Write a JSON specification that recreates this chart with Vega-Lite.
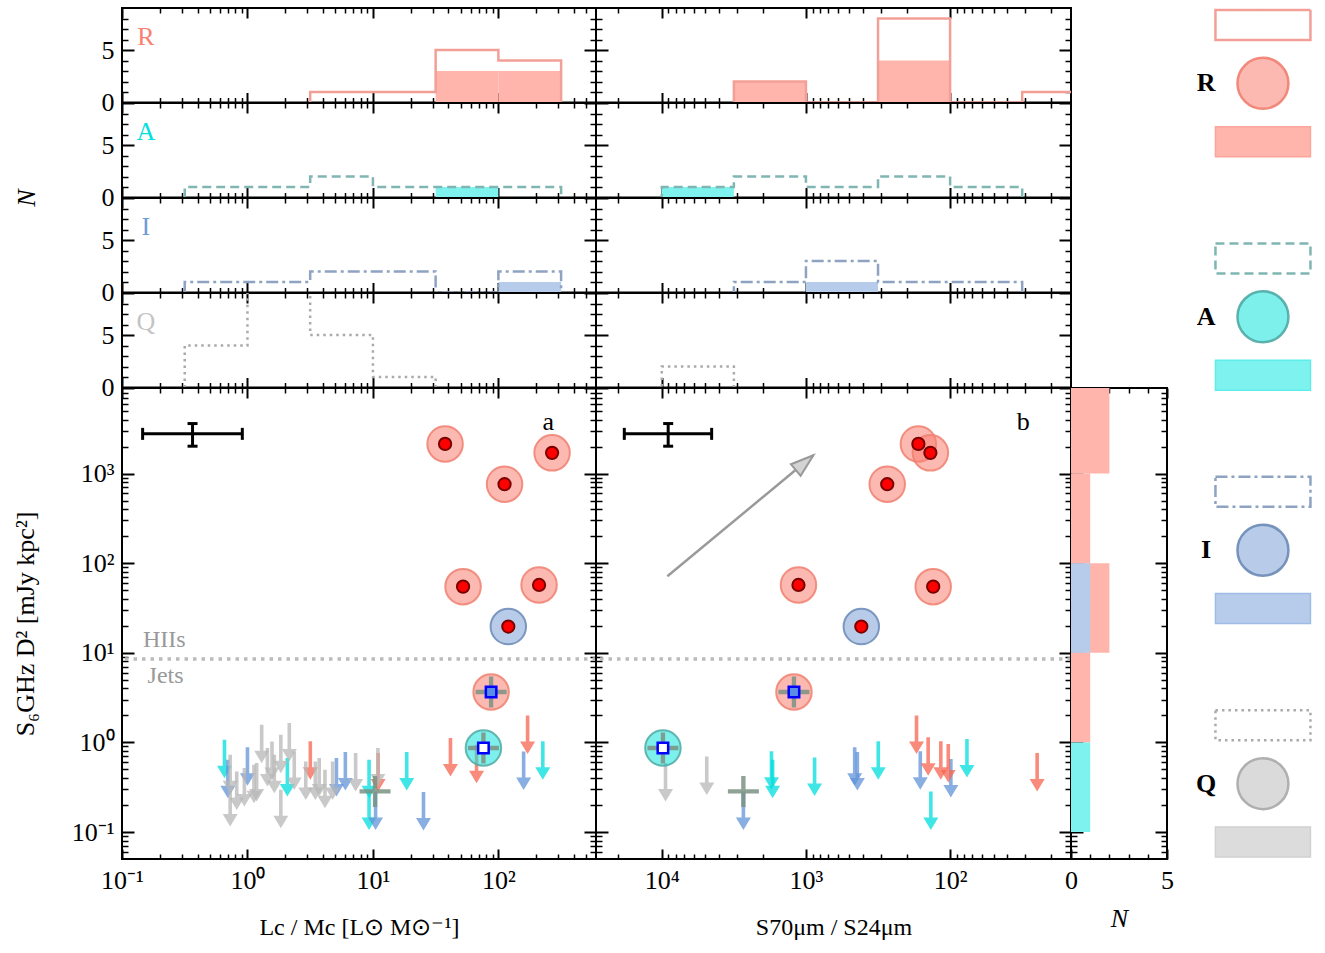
{
"$schema": "https://vega.github.io/schema/vega-lite/v6.json",
"background": "white",
"padding": {"left": 11, "top": 4, "right": 5, "bottom": 5},
"config": {
 "view": {"stroke": "black", "strokeWidth": 2},
 "font": "Liberation Serif",
 "axis": {"domain": false, "grid": false, "tickColor": "black", "tickWidth": 1.5, "labelFont": "Liberation Serif", "labelFontSize": 26, "labelColor": "black", "titleFont": "Liberation Serif", "titleFontSize": 26, "titleFontWeight": "normal", "titleColor": "black", "labelOverlap": false, "labelFlush": false, "labelBound": false}
},
"datasets": {
 "src": [
  {"panel":"a","cls":"R","kind":"det","x":37.6,"y":2140},
  {"panel":"a","cls":"R","kind":"det","x":268,"y":1700},
  {"panel":"a","cls":"R","kind":"det","x":112,"y":760},
  {"panel":"a","cls":"R","kind":"det","x":52.3,"y":54.7},
  {"panel":"a","cls":"R","kind":"det","x":211,"y":57.1},
  {"panel":"a","cls":"I","kind":"det","x":120,"y":19.6},
  {"panel":"a","cls":"R","kind":"jet","x":87.5,"y":3.65},
  {"panel":"a","cls":"A","kind":"jet","x":76,"y":0.865},
  {"panel":"a","cls":"X","kind":"cross","x":10.4,"y":0.284},
  {"panel":"a","cls":"A","kind":"lim","x":0.656,"y":1.07},
  {"panel":"a","cls":"A","kind":"lim","x":2.08,"y":0.668},
  {"panel":"a","cls":"A","kind":"lim","x":9.32,"y":0.64},
  {"panel":"a","cls":"A","kind":"lim","x":9.32,"y":0.284},
  {"panel":"a","cls":"A","kind":"lim","x":18.6,"y":0.78},
  {"panel":"a","cls":"A","kind":"lim","x":226,"y":1.03},
  {"panel":"a","cls":"I","kind":"lim","x":0.698,"y":0.64},
  {"panel":"a","cls":"I","kind":"lim","x":1.0,"y":0.88},
  {"panel":"a","cls":"I","kind":"lim","x":5.12,"y":0.668},
  {"panel":"a","cls":"I","kind":"lim","x":6.03,"y":0.78},
  {"panel":"a","cls":"I","kind":"lim","x":10.5,"y":0.284},
  {"panel":"a","cls":"I","kind":"lim","x":25.3,"y":0.279},
  {"panel":"a","cls":"I","kind":"lim","x":159,"y":0.79},
  {"panel":"a","cls":"R","kind":"lim","x":3.17,"y":1.03},
  {"panel":"a","cls":"R","kind":"lim","x":11.0,"y":0.76},
  {"panel":"a","cls":"R","kind":"lim","x":41.5,"y":1.12},
  {"panel":"a","cls":"R","kind":"lim","x":67,"y":0.94},
  {"panel":"a","cls":"R","kind":"lim","x":171,"y":1.99},
  {"panel":"a","cls":"Q","kind":"lim","x":0.728,"y":0.728},
  {"panel":"a","cls":"Q","kind":"lim","x":0.728,"y":0.309},
  {"panel":"a","cls":"Q","kind":"lim","x":0.821,"y":0.474},
  {"panel":"a","cls":"Q","kind":"lim","x":0.945,"y":0.517},
  {"panel":"a","cls":"Q","kind":"lim","x":1.127,"y":0.563},
  {"panel":"a","cls":"Q","kind":"lim","x":1.184,"y":0.588},
  {"panel":"a","cls":"Q","kind":"lim","x":1.298,"y":1.575},
  {"panel":"a","cls":"Q","kind":"lim","x":1.442,"y":0.864},
  {"panel":"a","cls":"Q","kind":"lim","x":1.569,"y":1.026},
  {"panel":"a","cls":"Q","kind":"lim","x":1.637,"y":0.728},
  {"panel":"a","cls":"Q","kind":"lim","x":1.845,"y":1.218},
  {"panel":"a","cls":"Q","kind":"lim","x":1.845,"y":0.296},
  {"panel":"a","cls":"Q","kind":"lim","x":2.155,"y":1.644},
  {"panel":"a","cls":"Q","kind":"lim","x":2.361,"y":0.793},
  {"panel":"a","cls":"Q","kind":"lim","x":2.916,"y":0.614},
  {"panel":"a","cls":"Q","kind":"lim","x":3.477,"y":0.614},
  {"panel":"a","cls":"Q","kind":"lim","x":3.73,"y":0.668},
  {"panel":"a","cls":"Q","kind":"lim","x":4.148,"y":0.495},
  {"panel":"a","cls":"Q","kind":"lim","x":4.775,"y":0.614},
  {"panel":"a","cls":"Q","kind":"lim","x":7.28,"y":0.76},
  {"panel":"a","cls":"Q","kind":"lim","x":10.96,"y":0.864},
  {"panel":"b","cls":"R","kind":"det","x":166,"y":2140},
  {"panel":"b","cls":"R","kind":"det","x":137,"y":1700},
  {"panel":"b","cls":"R","kind":"det","x":273,"y":760},
  {"panel":"b","cls":"R","kind":"det","x":1127,"y":57.1},
  {"panel":"b","cls":"R","kind":"det","x":131,"y":54.7},
  {"panel":"b","cls":"I","kind":"det","x":413,"y":19.6},
  {"panel":"b","cls":"R","kind":"jet","x":1211,"y":3.65},
  {"panel":"b","cls":"A","kind":"jet","x":9820,"y":0.865},
  {"panel":"b","cls":"X","kind":"cross","x":2716,"y":0.284},
  {"panel":"b","cls":"Q","kind":"lim","x":9420,"y":0.588},
  {"panel":"b","cls":"Q","kind":"lim","x":4875,"y":0.698},
  {"panel":"b","cls":"A","kind":"lim","x":1734,"y":0.794},
  {"panel":"b","cls":"A","kind":"lim","x":1703,"y":0.64},
  {"panel":"b","cls":"A","kind":"lim","x":871,"y":0.68},
  {"panel":"b","cls":"A","kind":"lim","x":315,"y":1.03},
  {"panel":"b","cls":"A","kind":"lim","x":76.4,"y":1.09},
  {"panel":"b","cls":"A","kind":"lim","x":136,"y":0.284},
  {"panel":"b","cls":"I","kind":"lim","x":2716,"y":0.284},
  {"panel":"b","cls":"I","kind":"lim","x":459,"y":0.88},
  {"panel":"b","cls":"I","kind":"lim","x":440,"y":0.78},
  {"panel":"b","cls":"I","kind":"lim","x":161,"y":0.794},
  {"panel":"b","cls":"I","kind":"lim","x":98.8,"y":0.652},
  {"panel":"b","cls":"R","kind":"lim","x":171,"y":1.99},
  {"panel":"b","cls":"R","kind":"lim","x":142,"y":1.14},
  {"panel":"b","cls":"R","kind":"lim","x":116,"y":1.03},
  {"panel":"b","cls":"R","kind":"lim","x":103,"y":0.96},
  {"panel":"b","cls":"R","kind":"lim","x":24.9,"y":0.76}
 ],
 "hout": [
  {"panel":"a","cls":"R","i":0,"x":3.162,"n":0},{"panel":"a","cls":"R","i":1,"x":3.162,"n":1},{"panel":"a","cls":"R","i":2,"x":10,"n":1},{"panel":"a","cls":"R","i":3,"x":31.62,"n":5},{"panel":"a","cls":"R","i":4,"x":100,"n":4},{"panel":"a","cls":"R","i":5,"x":316.2,"n":0},
  {"panel":"a","cls":"A","i":0,"x":0.3162,"n":0},{"panel":"a","cls":"A","i":1,"x":0.3162,"n":1},{"panel":"a","cls":"A","i":2,"x":1,"n":1},{"panel":"a","cls":"A","i":3,"x":3.162,"n":2},{"panel":"a","cls":"A","i":4,"x":10,"n":1},{"panel":"a","cls":"A","i":5,"x":31.62,"n":1},{"panel":"a","cls":"A","i":6,"x":100,"n":1},{"panel":"a","cls":"A","i":7,"x":316.2,"n":0},
  {"panel":"a","cls":"I","i":0,"x":0.3162,"n":0},{"panel":"a","cls":"I","i":1,"x":0.3162,"n":1},{"panel":"a","cls":"I","i":2,"x":1,"n":1},{"panel":"a","cls":"I","i":3,"x":3.162,"n":2},{"panel":"a","cls":"I","i":4,"x":10,"n":2},{"panel":"a","cls":"I","i":5,"x":31.62,"n":0},{"panel":"a","cls":"I","i":6,"x":100,"n":2},{"panel":"a","cls":"I","i":7,"x":316.2,"n":0},
  {"panel":"a","cls":"Q","i":0,"x":0.3162,"n":0},{"panel":"a","cls":"Q","i":1,"x":0.3162,"n":4},{"panel":"a","cls":"Q","i":2,"x":1,"n":12},{"panel":"a","cls":"Q","i":3,"x":3.162,"n":5},{"panel":"a","cls":"Q","i":4,"x":10,"n":1},{"panel":"a","cls":"Q","i":5,"x":31.62,"n":0},
  {"panel":"b","cls":"R","i":0,"x":10,"n":0},{"panel":"b","cls":"R","i":1,"x":10,"n":1},{"panel":"b","cls":"R","i":2,"x":31.62,"n":0},{"panel":"b","cls":"R","i":3,"x":100,"n":8},{"panel":"b","cls":"R","i":4,"x":316.2,"n":0},{"panel":"b","cls":"R","i":5,"x":1000,"n":2},{"panel":"b","cls":"R","i":6,"x":3162,"n":0},
  {"panel":"b","cls":"A","i":0,"x":31.62,"n":0},{"panel":"b","cls":"A","i":1,"x":31.62,"n":1},{"panel":"b","cls":"A","i":2,"x":100,"n":2},{"panel":"b","cls":"A","i":3,"x":316.2,"n":1},{"panel":"b","cls":"A","i":4,"x":1000,"n":2},{"panel":"b","cls":"A","i":5,"x":3162,"n":1},{"panel":"b","cls":"A","i":6,"x":10000,"n":0},
  {"panel":"b","cls":"I","i":0,"x":31.62,"n":0},{"panel":"b","cls":"I","i":1,"x":31.62,"n":1},{"panel":"b","cls":"I","i":2,"x":100,"n":1},{"panel":"b","cls":"I","i":3,"x":316.2,"n":3},{"panel":"b","cls":"I","i":4,"x":1000,"n":1},{"panel":"b","cls":"I","i":5,"x":3162,"n":0},
  {"panel":"b","cls":"Q","i":0,"x":3162,"n":0},{"panel":"b","cls":"Q","i":1,"x":3162,"n":2},{"panel":"b","cls":"Q","i":2,"x":10000,"n":0}
 ],
 "hfill": [
  {"panel":"a","cls":"R","lo":31.62,"hi":100,"n":3},
  {"panel":"a","cls":"R","lo":100,"hi":316.2,"n":3},
  {"panel":"a","cls":"A","lo":31.62,"hi":100,"n":1},
  {"panel":"a","cls":"I","lo":100,"hi":316.2,"n":1},
  {"panel":"b","cls":"R","lo":1000,"hi":3162,"n":2},
  {"panel":"b","cls":"R","lo":100,"hi":316.2,"n":4},
  {"panel":"b","cls":"A","lo":3162,"hi":10000,"n":1},
  {"panel":"b","cls":"I","lo":316.2,"hi":1000,"n":1}
 ],
 "nbar": [
  {"cls":"R","lo":1000,"hi":10000,"n":2},
  {"cls":"R","lo":100,"hi":1000,"n":1},
  {"cls":"R","lo":10,"hi":100,"n":2},
  {"cls":"R","lo":1,"hi":10,"n":1},
  {"cls":"I","lo":10,"hi":100,"n":1},
  {"cls":"A","lo":0.1,"hi":1,"n":1}
 ],
 "ebar": [
  {"panel":"a","x":0.365,"xlo":0.146,"xhi":0.91,"y":2770,"ylo":2018,"yhi":3610},
  {"panel":"b","x":9030,"xlo":18200,"xhi":4510,"y":2770,"ylo":2018,"yhi":3610}
 ],
 "vec": [{"x":9150,"y":71.3,"x2":888,"y2":1600}],
 "leg": [
  {"cls":"R","item":"outline","key":"R-outline"},{"cls":"R","item":"circle","key":"R-circle"},{"cls":"R","item":"fill","key":"R-fill"},
  {"cls":"A","item":"outline","key":"A-outline"},{"cls":"A","item":"circle","key":"A-circle"},{"cls":"A","item":"fill","key":"A-fill"},
  {"cls":"I","item":"outline","key":"I-outline"},{"cls":"I","item":"circle","key":"I-circle"},{"cls":"I","item":"fill","key":"I-fill"},
  {"cls":"Q","item":"outline","key":"Q-outline"},{"cls":"Q","item":"circle","key":"Q-circle"},{"cls":"Q","item":"fill","key":"Q-fill"}
 ]
},
"columns": 4,
"spacing": 0,
"bounds": "flush",
"concat": [

{"width":474,"height":94.5,"resolve":{"axis":{"x":"independent","y":"independent"}},"layer":[
 {"data":{"name":"hfill"},"transform":[{"filter":"datum.panel==='a' && datum.cls==='R'"}],"mark":{"type":"rect","color":"#FFB4AC","clip":true},"encoding":{"x":{"field":"lo","type":"quantitative","scale":{"type":"log","domain":[0.1,600],"nice":false},"axis":{"orient":"bottom","values":[0.1,1,10,100],"tickSize":-10,"tickWidth":2,"labels":false,"title":null}},"x2":{"field":"hi"},"y":{"field":"n","type":"quantitative","scale":{"domain":[0,9],"nice":false,"zero":false},"axis":{"orient":"left","values":[0,5],"tickSize":-12,"tickWidth":2,"labelPadding":20,"title":null}},"y2":{"datum":0}}},
 {"data":{"name":"hout"},"transform":[{"filter":"datum.panel==='a' && datum.cls==='R'"}],"mark":{"type":"line","interpolate":"step-after","color":"#F2A097","strokeWidth":2.5,"clip":true},"encoding":{"x":{"field":"x","type":"quantitative","scale":{"type":"log","domain":[0.1,600],"nice":false},"axis":{"orient":"bottom","values":[0.2,0.3,0.4,0.5,0.6,0.7,0.8,0.9,2,3,4,5,6,7,8,9,20,30,40,50,60,70,80,90,200,300,400,500],"tickSize":-5,"labels":false,"title":null}},"y":{"field":"n","type":"quantitative","scale":{"domain":[0,9],"nice":false,"zero":false},"axis":{"orient":"left","values":[1,2,3,4,6,7,8],"tickSize":-6,"labels":false,"title":null}},"order":{"field":"i","type":"quantitative"}}},
 {"data":{"values":[{}]},"mark":{"type":"text","text":"R","fontSize":26,"font":"Liberation Serif","color":"#FA8072","align":"center","baseline":"middle"},"encoding":{"x":{"datum":0.155,"type":"quantitative","scale":{"type":"log","domain":[0.1,600],"nice":false},"axis":{"orient":"top","values":[0.1,1,10,100],"tickSize":-10,"tickWidth":2,"labels":false,"title":null}},"y":{"datum":6.2,"type":"quantitative","scale":{"domain":[0,9],"nice":false,"zero":false},"axis":{"orient":"right","values":[0,5],"tickSize":-12,"tickWidth":2,"labels":false,"title":null}}}},
 {"data":{"values":[{}]},"mark":{"type":"point","opacity":0},"encoding":{"x":{"datum":1,"type":"quantitative","scale":{"type":"log","domain":[0.1,600],"nice":false},"axis":{"orient":"top","values":[0.2,0.3,0.4,0.5,0.6,0.7,0.8,0.9,2,3,4,5,6,7,8,9,20,30,40,50,60,70,80,90,200,300,400,500],"tickSize":-5,"labels":false,"title":null}},"y":{"datum":1,"type":"quantitative","scale":{"domain":[0,9],"nice":false,"zero":false},"axis":{"orient":"right","values":[1,2,3,4,6,7,8],"tickSize":-6,"labels":false,"title":null}}}}
]},
{"width":475,"height":94.5,"resolve":{"axis":{"x":"independent","y":"independent"}},"layer":[
 {"data":{"name":"hfill"},"transform":[{"filter":"datum.panel==='b' && datum.cls==='R'"}],"mark":{"type":"rect","color":"#FFB4AC","clip":true},"encoding":{"x":{"field":"lo","type":"quantitative","scale":{"type":"log","domain":[14.5,28600],"reverse":true,"nice":false},"axis":{"orient":"bottom","values":[100,1000,10000],"tickSize":-10,"tickWidth":2,"labels":false,"title":null}},"x2":{"field":"hi"},"y":{"field":"n","type":"quantitative","scale":{"domain":[0,9],"nice":false,"zero":false},"axis":{"orient":"left","values":[0,5],"tickSize":-12,"tickWidth":2,"labels":false,"title":null}},"y2":{"datum":0}}},
 {"data":{"name":"hout"},"transform":[{"filter":"datum.panel==='b' && datum.cls==='R'"}],"mark":{"type":"line","interpolate":"step-after","color":"#F2A097","strokeWidth":2.5,"clip":true},"encoding":{"x":{"field":"x","type":"quantitative","scale":{"type":"log","domain":[14.5,28600],"reverse":true,"nice":false},"axis":{"orient":"bottom","values":[20,30,40,50,60,70,80,90,200,300,400,500,600,700,800,900,2000,3000,4000,5000,6000,7000,8000,9000,20000],"tickSize":-5,"labels":false,"title":null}},"y":{"field":"n","type":"quantitative","scale":{"domain":[0,9],"nice":false,"zero":false},"axis":{"orient":"left","values":[1,2,3,4,6,7,8],"tickSize":-6,"labels":false,"title":null}},"order":{"field":"i","type":"quantitative"}}},
 {"data":{"values":[{}]},"mark":{"type":"point","opacity":0},"encoding":{"x":{"datum":100,"type":"quantitative","scale":{"type":"log","domain":[14.5,28600],"reverse":true,"nice":false},"axis":{"orient":"top","values":[100,1000,10000],"tickSize":-10,"tickWidth":2,"labels":false,"title":null}},"y":{"datum":1,"type":"quantitative","scale":{"domain":[0,9],"nice":false,"zero":false},"axis":{"orient":"right","values":[0,5],"tickSize":-12,"tickWidth":2,"labels":false,"title":null}}}},
 {"data":{"values":[{}]},"mark":{"type":"point","opacity":0},"encoding":{"x":{"datum":100,"type":"quantitative","scale":{"type":"log","domain":[14.5,28600],"reverse":true,"nice":false},"axis":{"orient":"top","values":[20,30,40,50,60,70,80,90,200,300,400,500,600,700,800,900,2000,3000,4000,5000,6000,7000,8000,9000,20000],"tickSize":-5,"labels":false,"title":null}},"y":{"datum":1,"type":"quantitative","scale":{"domain":[0,9],"nice":false,"zero":false},"axis":{"orient":"right","values":[1,2,3,4,6,7,8],"tickSize":-6,"labels":false,"title":null}}}}
]},
{"width":96,"height":94.5,"view":{"stroke":null},"data":{"values":[{}]},"mark":{"type":"point","opacity":0}},
{"width":143,"height":94.5,"view":{"stroke":null},"data":{"name":"leg"},"resolve":{"scale":{"fill":"independent","stroke":"independent"}},"layer":[
 {"transform":[{"filter":"datum.item==='outline'"}],"mark":{"type":"point","shape":"M-1,-0.316L1,-0.316L1,0.316L-1,0.316Z","size":9025,"filled":false,"strokeWidth":2.5,"opacity":1},"encoding":{"x":{"datum":6.71,"type":"quantitative","scale":{"domain":[0,10],"nice":false,"zero":false},"axis":null},"y":{"field":"key","type":"nominal","scale":{"type":"point","padding":0,"domain":["R-outline","R-circle","R-fill","g1","A-outline","A-circle","A-fill","g2","I-outline","I-circle","I-fill","g3","Q-outline","Q-circle","Q-fill"],"range":[17,834]},"axis":null},"stroke":{"field":"cls","type":"nominal","scale":{"domain":["R","A","I","Q"],"range":["#F2A097","#7FB6B2","#8EA3C2","#AAAAAA"]},"legend":null},"strokeDash":{"field":"cls","type":"nominal","scale":{"domain":["R","A","I","Q"],"range":[[1,0],[9,5],[12,4,3,4],[2.5,4]]},"legend":null}}},
 {"transform":[{"filter":"datum.item==='fill'"}],"mark":{"type":"point","shape":"M-1,-0.316L1,-0.316L1,0.316L-1,0.316Z","size":9025,"filled":true,"strokeWidth":1.5,"opacity":1},"encoding":{"x":{"datum":6.71,"type":"quantitative","scale":{"domain":[0,10],"nice":false,"zero":false},"axis":null},"y":{"field":"key","type":"nominal","scale":{"type":"point","padding":0,"domain":["R-outline","R-circle","R-fill","g1","A-outline","A-circle","A-fill","g2","I-outline","I-circle","I-fill","g3","Q-outline","Q-circle","Q-fill"],"range":[17,834]},"axis":null},"fill":{"field":"cls","type":"nominal","scale":{"domain":["R","A","I","Q"],"range":["#FFB4AC","#7EF2EE","#B7CCEB","#DCDCDC"]},"legend":null},"stroke":{"field":"cls","type":"nominal","scale":{"domain":["R","A","I","Q"],"range":["#FCA59B","#5EEDEA","#9FBCE6","#D0D0D0"]},"legend":null}}},
 {"transform":[{"filter":"datum.item==='circle'"}],"mark":{"type":"point","shape":"circle","size":2600,"filled":true,"opacity":1,"fillOpacity":0.55,"strokeWidth":2.5,"strokeOpacity":0.9},"encoding":{"x":{"datum":6.71,"type":"quantitative","scale":{"domain":[0,10],"nice":false,"zero":false},"axis":null},"y":{"field":"key","type":"nominal","scale":{"type":"point","padding":0,"domain":["R-outline","R-circle","R-fill","g1","A-outline","A-circle","A-fill","g2","I-outline","I-circle","I-fill","g3","Q-outline","Q-circle","Q-fill"],"range":[17,834]},"axis":null},"fill":{"field":"cls","type":"nominal","scale":{"domain":["R","A","I","Q"],"range":["#FA8072","#14E4DC","#7EA2D9","#BCBCBC"]},"legend":null},"stroke":{"field":"cls","type":"nominal","scale":{"domain":["R","A","I","Q"],"range":["#F08070","#4FAAA5","#6A8AB5","#A8A8A8"]},"legend":null}}},
 {"transform":[{"filter":"datum.item==='circle'"}],"mark":{"type":"text","fontSize":26,"fontWeight":"bold","color":"black","align":"center","baseline":"middle"},"encoding":{"x":{"datum":2.73,"type":"quantitative","scale":{"domain":[0,10],"nice":false,"zero":false},"axis":null},"y":{"field":"key","type":"nominal","scale":{"type":"point","padding":0,"domain":["R-outline","R-circle","R-fill","g1","A-outline","A-circle","A-fill","g2","I-outline","I-circle","I-fill","g3","Q-outline","Q-circle","Q-fill"],"range":[17,834]},"axis":null},"text":{"field":"cls","type":"nominal"}}}
]},

{"width":474,"height":94.5,"resolve":{"axis":{"x":"independent","y":"independent"}},"layer":[
 {"data":{"name":"hfill"},"transform":[{"filter":"datum.panel==='a' && datum.cls==='A'"}],"mark":{"type":"rect","color":"#7EF2EE","clip":true},"encoding":{"x":{"field":"lo","type":"quantitative","scale":{"type":"log","domain":[0.1,600],"nice":false},"axis":{"orient":"bottom","values":[0.1,1,10,100],"tickSize":-10,"tickWidth":2,"labels":false,"title":null}},"x2":{"field":"hi"},"y":{"field":"n","type":"quantitative","scale":{"domain":[0,9],"nice":false,"zero":false},"axis":{"orient":"left","values":[0,5],"tickSize":-12,"tickWidth":2,"labelPadding":20,"title":"N","titleFontStyle":"italic","titleAnchor":"start","titleAlign":"center","titlePadding":62}},"y2":{"datum":0}}},
 {"data":{"name":"hout"},"transform":[{"filter":"datum.panel==='a' && datum.cls==='A'"}],"mark":{"type":"line","interpolate":"step-after","color":"#7FB6B2","strokeWidth":2.5,"strokeDash":[9,5],"clip":true},"encoding":{"x":{"field":"x","type":"quantitative","scale":{"type":"log","domain":[0.1,600],"nice":false},"axis":{"orient":"bottom","values":[0.2,0.3,0.4,0.5,0.6,0.7,0.8,0.9,2,3,4,5,6,7,8,9,20,30,40,50,60,70,80,90,200,300,400,500],"tickSize":-5,"labels":false,"title":null}},"y":{"field":"n","type":"quantitative","scale":{"domain":[0,9],"nice":false,"zero":false},"axis":{"orient":"left","values":[1,2,3,4,6,7,8],"tickSize":-6,"labels":false,"title":null}},"order":{"field":"i","type":"quantitative"}}},
 {"data":{"values":[{}]},"mark":{"type":"text","text":"A","fontSize":26,"font":"Liberation Serif","color":"#00E0E0","align":"center","baseline":"middle"},"encoding":{"x":{"datum":0.155,"type":"quantitative","scale":{"type":"log","domain":[0.1,600],"nice":false},"axis":{"orient":"top","values":[0.1,1,10,100],"tickSize":-10,"tickWidth":2,"labels":false,"title":null}},"y":{"datum":6.2,"type":"quantitative","scale":{"domain":[0,9],"nice":false,"zero":false},"axis":{"orient":"right","values":[0,5],"tickSize":-12,"tickWidth":2,"labels":false,"title":null}}}},
 {"data":{"values":[{}]},"mark":{"type":"point","opacity":0},"encoding":{"x":{"datum":1,"type":"quantitative","scale":{"type":"log","domain":[0.1,600],"nice":false},"axis":{"orient":"top","values":[0.2,0.3,0.4,0.5,0.6,0.7,0.8,0.9,2,3,4,5,6,7,8,9,20,30,40,50,60,70,80,90,200,300,400,500],"tickSize":-5,"labels":false,"title":null}},"y":{"datum":1,"type":"quantitative","scale":{"domain":[0,9],"nice":false,"zero":false},"axis":{"orient":"right","values":[1,2,3,4,6,7,8],"tickSize":-6,"labels":false,"title":null}}}}
]},
{"width":475,"height":94.5,"resolve":{"axis":{"x":"independent","y":"independent"}},"layer":[
 {"data":{"name":"hfill"},"transform":[{"filter":"datum.panel==='b' && datum.cls==='A'"}],"mark":{"type":"rect","color":"#7EF2EE","clip":true},"encoding":{"x":{"field":"lo","type":"quantitative","scale":{"type":"log","domain":[14.5,28600],"reverse":true,"nice":false},"axis":{"orient":"bottom","values":[100,1000,10000],"tickSize":-10,"tickWidth":2,"labels":false,"title":null}},"x2":{"field":"hi"},"y":{"field":"n","type":"quantitative","scale":{"domain":[0,9],"nice":false,"zero":false},"axis":{"orient":"left","values":[0,5],"tickSize":-12,"tickWidth":2,"labels":false,"title":null}},"y2":{"datum":0}}},
 {"data":{"name":"hout"},"transform":[{"filter":"datum.panel==='b' && datum.cls==='A'"}],"mark":{"type":"line","interpolate":"step-after","color":"#7FB6B2","strokeWidth":2.5,"strokeDash":[9,5],"clip":true},"encoding":{"x":{"field":"x","type":"quantitative","scale":{"type":"log","domain":[14.5,28600],"reverse":true,"nice":false},"axis":{"orient":"bottom","values":[20,30,40,50,60,70,80,90,200,300,400,500,600,700,800,900,2000,3000,4000,5000,6000,7000,8000,9000,20000],"tickSize":-5,"labels":false,"title":null}},"y":{"field":"n","type":"quantitative","scale":{"domain":[0,9],"nice":false,"zero":false},"axis":{"orient":"left","values":[1,2,3,4,6,7,8],"tickSize":-6,"labels":false,"title":null}},"order":{"field":"i","type":"quantitative"}}},
 {"data":{"values":[{}]},"mark":{"type":"point","opacity":0},"encoding":{"x":{"datum":100,"type":"quantitative","scale":{"type":"log","domain":[14.5,28600],"reverse":true,"nice":false},"axis":{"orient":"top","values":[100,1000,10000],"tickSize":-10,"tickWidth":2,"labels":false,"title":null}},"y":{"datum":1,"type":"quantitative","scale":{"domain":[0,9],"nice":false,"zero":false},"axis":{"orient":"right","values":[0,5],"tickSize":-12,"tickWidth":2,"labels":false,"title":null}}}},
 {"data":{"values":[{}]},"mark":{"type":"point","opacity":0},"encoding":{"x":{"datum":100,"type":"quantitative","scale":{"type":"log","domain":[14.5,28600],"reverse":true,"nice":false},"axis":{"orient":"top","values":[20,30,40,50,60,70,80,90,200,300,400,500,600,700,800,900,2000,3000,4000,5000,6000,7000,8000,9000,20000],"tickSize":-5,"labels":false,"title":null}},"y":{"datum":1,"type":"quantitative","scale":{"domain":[0,9],"nice":false,"zero":false},"axis":{"orient":"right","values":[1,2,3,4,6,7,8],"tickSize":-6,"labels":false,"title":null}}}}
]},
{"width":96,"height":94.5,"view":{"stroke":null},"data":{"values":[{}]},"mark":{"type":"point","opacity":0}},
{"width":10,"height":94.5,"view":{"stroke":null},"data":{"values":[{}]},"mark":{"type":"point","opacity":0}},

{"width":474,"height":94.5,"resolve":{"axis":{"x":"independent","y":"independent"}},"layer":[
 {"data":{"name":"hfill"},"transform":[{"filter":"datum.panel==='a' && datum.cls==='I'"}],"mark":{"type":"rect","color":"#B7CCEB","clip":true},"encoding":{"x":{"field":"lo","type":"quantitative","scale":{"type":"log","domain":[0.1,600],"nice":false},"axis":{"orient":"bottom","values":[0.1,1,10,100],"tickSize":-10,"tickWidth":2,"labels":false,"title":null}},"x2":{"field":"hi"},"y":{"field":"n","type":"quantitative","scale":{"domain":[0,9],"nice":false,"zero":false},"axis":{"orient":"left","values":[0,5],"tickSize":-12,"tickWidth":2,"labelPadding":20,"title":null}},"y2":{"datum":0}}},
 {"data":{"name":"hout"},"transform":[{"filter":"datum.panel==='a' && datum.cls==='I'"}],"mark":{"type":"line","interpolate":"step-after","color":"#8EA3C2","strokeWidth":2.5,"strokeDash":[12,4,3,4],"clip":true},"encoding":{"x":{"field":"x","type":"quantitative","scale":{"type":"log","domain":[0.1,600],"nice":false},"axis":{"orient":"bottom","values":[0.2,0.3,0.4,0.5,0.6,0.7,0.8,0.9,2,3,4,5,6,7,8,9,20,30,40,50,60,70,80,90,200,300,400,500],"tickSize":-5,"labels":false,"title":null}},"y":{"field":"n","type":"quantitative","scale":{"domain":[0,9],"nice":false,"zero":false},"axis":{"orient":"left","values":[1,2,3,4,6,7,8],"tickSize":-6,"labels":false,"title":null}},"order":{"field":"i","type":"quantitative"}}},
 {"data":{"values":[{}]},"mark":{"type":"text","text":"I","fontSize":26,"font":"Liberation Serif","color":"#6F9BD8","align":"center","baseline":"middle"},"encoding":{"x":{"datum":0.155,"type":"quantitative","scale":{"type":"log","domain":[0.1,600],"nice":false},"axis":{"orient":"top","values":[0.1,1,10,100],"tickSize":-10,"tickWidth":2,"labels":false,"title":null}},"y":{"datum":6.2,"type":"quantitative","scale":{"domain":[0,9],"nice":false,"zero":false},"axis":{"orient":"right","values":[0,5],"tickSize":-12,"tickWidth":2,"labels":false,"title":null}}}},
 {"data":{"values":[{}]},"mark":{"type":"point","opacity":0},"encoding":{"x":{"datum":1,"type":"quantitative","scale":{"type":"log","domain":[0.1,600],"nice":false},"axis":{"orient":"top","values":[0.2,0.3,0.4,0.5,0.6,0.7,0.8,0.9,2,3,4,5,6,7,8,9,20,30,40,50,60,70,80,90,200,300,400,500],"tickSize":-5,"labels":false,"title":null}},"y":{"datum":1,"type":"quantitative","scale":{"domain":[0,9],"nice":false,"zero":false},"axis":{"orient":"right","values":[1,2,3,4,6,7,8],"tickSize":-6,"labels":false,"title":null}}}}
]},
{"width":475,"height":94.5,"resolve":{"axis":{"x":"independent","y":"independent"}},"layer":[
 {"data":{"name":"hfill"},"transform":[{"filter":"datum.panel==='b' && datum.cls==='I'"}],"mark":{"type":"rect","color":"#B7CCEB","clip":true},"encoding":{"x":{"field":"lo","type":"quantitative","scale":{"type":"log","domain":[14.5,28600],"reverse":true,"nice":false},"axis":{"orient":"bottom","values":[100,1000,10000],"tickSize":-10,"tickWidth":2,"labels":false,"title":null}},"x2":{"field":"hi"},"y":{"field":"n","type":"quantitative","scale":{"domain":[0,9],"nice":false,"zero":false},"axis":{"orient":"left","values":[0,5],"tickSize":-12,"tickWidth":2,"labels":false,"title":null}},"y2":{"datum":0}}},
 {"data":{"name":"hout"},"transform":[{"filter":"datum.panel==='b' && datum.cls==='I'"}],"mark":{"type":"line","interpolate":"step-after","color":"#8EA3C2","strokeWidth":2.5,"strokeDash":[12,4,3,4],"clip":true},"encoding":{"x":{"field":"x","type":"quantitative","scale":{"type":"log","domain":[14.5,28600],"reverse":true,"nice":false},"axis":{"orient":"bottom","values":[20,30,40,50,60,70,80,90,200,300,400,500,600,700,800,900,2000,3000,4000,5000,6000,7000,8000,9000,20000],"tickSize":-5,"labels":false,"title":null}},"y":{"field":"n","type":"quantitative","scale":{"domain":[0,9],"nice":false,"zero":false},"axis":{"orient":"left","values":[1,2,3,4,6,7,8],"tickSize":-6,"labels":false,"title":null}},"order":{"field":"i","type":"quantitative"}}},
 {"data":{"values":[{}]},"mark":{"type":"point","opacity":0},"encoding":{"x":{"datum":100,"type":"quantitative","scale":{"type":"log","domain":[14.5,28600],"reverse":true,"nice":false},"axis":{"orient":"top","values":[100,1000,10000],"tickSize":-10,"tickWidth":2,"labels":false,"title":null}},"y":{"datum":1,"type":"quantitative","scale":{"domain":[0,9],"nice":false,"zero":false},"axis":{"orient":"right","values":[0,5],"tickSize":-12,"tickWidth":2,"labels":false,"title":null}}}},
 {"data":{"values":[{}]},"mark":{"type":"point","opacity":0},"encoding":{"x":{"datum":100,"type":"quantitative","scale":{"type":"log","domain":[14.5,28600],"reverse":true,"nice":false},"axis":{"orient":"top","values":[20,30,40,50,60,70,80,90,200,300,400,500,600,700,800,900,2000,3000,4000,5000,6000,7000,8000,9000,20000],"tickSize":-5,"labels":false,"title":null}},"y":{"datum":1,"type":"quantitative","scale":{"domain":[0,9],"nice":false,"zero":false},"axis":{"orient":"right","values":[1,2,3,4,6,7,8],"tickSize":-6,"labels":false,"title":null}}}}
]},
{"width":96,"height":94.5,"view":{"stroke":null},"data":{"values":[{}]},"mark":{"type":"point","opacity":0}},
{"width":10,"height":94.5,"view":{"stroke":null},"data":{"values":[{}]},"mark":{"type":"point","opacity":0}},

{"width":474,"height":94.5,"resolve":{"axis":{"x":"independent","y":"independent"}},"layer":[
 {"data":{"name":"hout"},"transform":[{"filter":"datum.panel==='a' && datum.cls==='Q'"}],"mark":{"type":"line","interpolate":"step-after","color":"#AAAAAA","strokeWidth":2.5,"strokeDash":[2.5,4],"clip":true},"encoding":{"x":{"field":"x","type":"quantitative","scale":{"type":"log","domain":[0.1,600],"nice":false},"axis":{"orient":"bottom","values":[0.1,1,10,100],"tickSize":-10,"tickWidth":2,"labels":false,"title":null}},"y":{"field":"n","type":"quantitative","scale":{"domain":[0,9],"nice":false,"zero":false},"axis":{"orient":"left","values":[0,5],"tickSize":-12,"tickWidth":2,"labelPadding":20,"title":null}},"order":{"field":"i","type":"quantitative"}}},
 {"data":{"values":[{}]},"mark":{"type":"text","text":"Q","fontSize":26,"font":"Liberation Serif","color":"#C4C4C4","align":"center","baseline":"middle"},"encoding":{"x":{"datum":0.155,"type":"quantitative","scale":{"type":"log","domain":[0.1,600],"nice":false},"axis":{"orient":"bottom","values":[0.2,0.3,0.4,0.5,0.6,0.7,0.8,0.9,2,3,4,5,6,7,8,9,20,30,40,50,60,70,80,90,200,300,400,500],"tickSize":-5,"labels":false,"title":null}},"y":{"datum":6.2,"type":"quantitative","scale":{"domain":[0,9],"nice":false,"zero":false},"axis":{"orient":"left","values":[1,2,3,4,6,7,8],"tickSize":-6,"labels":false,"title":null}}}},
 {"data":{"values":[{}]},"mark":{"type":"point","opacity":0},"encoding":{"x":{"datum":1,"type":"quantitative","scale":{"type":"log","domain":[0.1,600],"nice":false},"axis":{"orient":"top","values":[0.1,1,10,100],"tickSize":-10,"tickWidth":2,"labels":false,"title":null}},"y":{"datum":1,"type":"quantitative","scale":{"domain":[0,9],"nice":false,"zero":false},"axis":{"orient":"right","values":[0,5],"tickSize":-12,"tickWidth":2,"labels":false,"title":null}}}},
 {"data":{"values":[{}]},"mark":{"type":"point","opacity":0},"encoding":{"x":{"datum":1,"type":"quantitative","scale":{"type":"log","domain":[0.1,600],"nice":false},"axis":{"orient":"top","values":[0.2,0.3,0.4,0.5,0.6,0.7,0.8,0.9,2,3,4,5,6,7,8,9,20,30,40,50,60,70,80,90,200,300,400,500],"tickSize":-5,"labels":false,"title":null}},"y":{"datum":1,"type":"quantitative","scale":{"domain":[0,9],"nice":false,"zero":false},"axis":{"orient":"right","values":[1,2,3,4,6,7,8],"tickSize":-6,"labels":false,"title":null}}}}
]},
{"width":475,"height":94.5,"resolve":{"axis":{"x":"independent","y":"independent"}},"layer":[
 {"data":{"name":"hout"},"transform":[{"filter":"datum.panel==='b' && datum.cls==='Q'"}],"mark":{"type":"line","interpolate":"step-after","color":"#AAAAAA","strokeWidth":2.5,"strokeDash":[2.5,4],"clip":true},"encoding":{"x":{"field":"x","type":"quantitative","scale":{"type":"log","domain":[14.5,28600],"reverse":true,"nice":false},"axis":{"orient":"bottom","values":[100,1000,10000],"tickSize":-10,"tickWidth":2,"labels":false,"title":null}},"y":{"field":"n","type":"quantitative","scale":{"domain":[0,9],"nice":false,"zero":false},"axis":{"orient":"left","values":[0,5],"tickSize":-12,"tickWidth":2,"labels":false,"title":null}},"order":{"field":"i","type":"quantitative"}}},
 {"data":{"values":[{}]},"mark":{"type":"point","opacity":0},"encoding":{"x":{"datum":100,"type":"quantitative","scale":{"type":"log","domain":[14.5,28600],"reverse":true,"nice":false},"axis":{"orient":"bottom","values":[20,30,40,50,60,70,80,90,200,300,400,500,600,700,800,900,2000,3000,4000,5000,6000,7000,8000,9000,20000],"tickSize":-5,"labels":false,"title":null}},"y":{"datum":1,"type":"quantitative","scale":{"domain":[0,9],"nice":false,"zero":false},"axis":{"orient":"left","values":[1,2,3,4,6,7,8],"tickSize":-6,"labels":false,"title":null}}}},
 {"data":{"values":[{}]},"mark":{"type":"point","opacity":0},"encoding":{"x":{"datum":100,"type":"quantitative","scale":{"type":"log","domain":[14.5,28600],"reverse":true,"nice":false},"axis":{"orient":"top","values":[100,1000,10000],"tickSize":-10,"tickWidth":2,"labels":false,"title":null}},"y":{"datum":1,"type":"quantitative","scale":{"domain":[0,9],"nice":false,"zero":false},"axis":{"orient":"right","values":[0,5],"tickSize":-12,"tickWidth":2,"labels":false,"title":null}}}},
 {"data":{"values":[{}]},"mark":{"type":"point","opacity":0},"encoding":{"x":{"datum":100,"type":"quantitative","scale":{"type":"log","domain":[14.5,28600],"reverse":true,"nice":false},"axis":{"orient":"top","values":[20,30,40,50,60,70,80,90,200,300,400,500,600,700,800,900,2000,3000,4000,5000,6000,7000,8000,9000,20000],"tickSize":-5,"labels":false,"title":null}},"y":{"datum":1,"type":"quantitative","scale":{"domain":[0,9],"nice":false,"zero":false},"axis":{"orient":"right","values":[1,2,3,4,6,7,8],"tickSize":-6,"labels":false,"title":null}}}}
]},
{"width":96,"height":94.5,"view":{"stroke":null},"data":{"values":[{}]},"mark":{"type":"point","opacity":0}},
{"width":10,"height":94.5,"view":{"stroke":null},"data":{"values":[{}]},"mark":{"type":"point","opacity":0}},

{"width":474,"height":471,"resolve":{"axis":{"x":"independent","y":"independent"},"scale":{"fill":"independent","stroke":"independent"}},"layer":[
 {"data":{"name":"src"},"transform":[{"filter":"datum.panel==='a' && datum.kind==='lim'"}],"mark":{"type":"point","shape":"M-0.18,0L0.18,0L0.18,2.75L-0.18,2.75Z M-0.75,2.6L0.75,2.6L0,3.85Z","size":400,"filled":true,"opacity":0.75,"strokeWidth":0},"encoding":{"x":{"field":"x","type":"quantitative","scale":{"type":"log","domain":[0.1,600],"nice":false},"axis":{"orient":"bottom","values":[0.1,1,10,100],"tickSize":-10,"tickWidth":2,"labelPadding":18,"labelExpr":"'10' + ['⁻¹','⁰','¹','²','³','⁴'][round(log(datum.value)/LN10)+1]","title":"Lc / Mc  [L⊙ M⊙⁻¹]","titleFontSize":24,"titlePadding":22}},"y":{"field":"y","type":"quantitative","scale":{"type":"log","domain":[0.05,9000],"nice":false},"axis":{"orient":"left","values":[0.1,1,10,100,1000],"tickSize":-12,"tickWidth":2,"labelPadding":20,"labelExpr":"'10' + ['⁻¹','⁰','¹','²','³','⁴'][round(log(datum.value)/LN10)+1]","title":"S₆GHz D² [mJy kpc²]","titlePadding":33}},"fill":{"field":"cls","type":"nominal","scale":{"domain":["R","A","I","Q"],"range":["#F76450","#00DEDE","#6093D8","#B7B7B7"]},"legend":null}}},
 {"data":{"name":"src"},"transform":[{"filter":"datum.panel==='a' && (datum.kind==='det' || datum.kind==='jet')"}],"mark":{"type":"point","shape":"circle","size":1260,"filled":true,"opacity":1,"fillOpacity":0.55,"strokeWidth":2,"strokeOpacity":0.85},"encoding":{"x":{"field":"x","type":"quantitative","scale":{"type":"log","domain":[0.1,600],"nice":false},"axis":{"orient":"bottom","values":[0.2,0.3,0.4,0.5,0.6,0.7,0.8,0.9,2,3,4,5,6,7,8,9,20,30,40,50,60,70,80,90,200,300,400,500],"tickSize":-5,"labels":false,"title":null}},"y":{"field":"y","type":"quantitative","scale":{"type":"log","domain":[0.05,9000],"nice":false},"axis":{"orient":"left","values":[0.06,0.07,0.08,0.09,0.2,0.3,0.4,0.5,0.6,0.7,0.8,0.9,2,3,4,5,6,7,8,9,20,30,40,50,60,70,80,90,200,300,400,500,600,700,800,900,2000,3000,4000,5000,6000,7000,8000],"tickSize":-6,"labels":false,"title":null}},"fill":{"field":"cls","type":"nominal","scale":{"domain":["R","A","I","Q"],"range":["#FA8072","#14E4DC","#7EA2D9","#BCBCBC"]},"legend":null},"stroke":{"field":"cls","type":"nominal","scale":{"domain":["R","A","I","Q"],"range":["#F08070","#4FAAA5","#6A8AB5","#A8A8A8"]},"legend":null}}},
 {"data":{"name":"src"},"transform":[{"filter":"datum.panel==='a' && (datum.kind==='jet' || datum.kind==='cross')"}],"mark":{"type":"point","shape":"M-1,-0.14L1,-0.14L1,0.14L-1,0.14Z M-0.14,-1L0.14,-1L0.14,1L-0.14,1Z","size":961,"filled":true,"color":"#7A9282","opacity":0.85,"strokeWidth":0},"encoding":{"x":{"field":"x","type":"quantitative","scale":{"type":"log","domain":[0.1,600],"nice":false},"axis":{"orient":"top","values":[0.1,1,10,100],"tickSize":-10,"tickWidth":2,"labels":false,"title":null}},"y":{"field":"y","type":"quantitative","scale":{"type":"log","domain":[0.05,9000],"nice":false},"axis":{"orient":"right","values":[0.1,1,10,100,1000],"tickSize":-12,"tickWidth":2,"labels":false,"title":null}}}},
 {"data":{"name":"src"},"transform":[{"filter":"datum.panel==='a' && datum.kind==='det'"}],"mark":{"type":"point","shape":"circle","size":150,"filled":true,"fill":"#FF0000","stroke":"#7A0000","strokeWidth":2,"opacity":1},"encoding":{"x":{"field":"x","type":"quantitative","scale":{"type":"log","domain":[0.1,600],"nice":false},"axis":{"orient":"top","values":[0.2,0.3,0.4,0.5,0.6,0.7,0.8,0.9,2,3,4,5,6,7,8,9,20,30,40,50,60,70,80,90,200,300,400,500],"tickSize":-5,"labels":false,"title":null}},"y":{"field":"y","type":"quantitative","scale":{"type":"log","domain":[0.05,9000],"nice":false},"axis":{"orient":"right","values":[0.06,0.07,0.08,0.09,0.2,0.3,0.4,0.5,0.6,0.7,0.8,0.9,2,3,4,5,6,7,8,9,20,30,40,50,60,70,80,90,200,300,400,500,600,700,800,900,2000,3000,4000,5000,6000,7000,8000],"tickSize":-6,"labels":false,"title":null}}}},
 {"data":{"name":"src"},"transform":[{"filter":"datum.panel==='a' && datum.kind==='jet'"}],"mark":{"type":"point","shape":"square","size":110,"filled":true,"stroke":"#0000FF","strokeWidth":2.5,"opacity":1},"encoding":{"x":{"field":"x","type":"quantitative","scale":{"type":"log","domain":[0.1,600],"nice":false},"axis":null},"y":{"field":"y","type":"quantitative","scale":{"type":"log","domain":[0.05,9000],"nice":false},"axis":null},"fill":{"field":"cls","type":"nominal","scale":{"domain":["R","A"],"range":["#5A8DE6","#FFFFFF"]},"legend":null}}},
 {"data":{"values":[{}]},"mark":{"type":"rule","color":"#BBBBBB","strokeWidth":3.5,"strokeDash":[3.5,5]},"encoding":{"y":{"datum":8.5,"type":"quantitative","scale":{"type":"log","domain":[0.05,9000],"nice":false},"axis":null}}},
 {"data":{"values":[{}]},"mark":{"type":"text","text":"HIIs","fontSize":24,"color":"#999999","align":"left","baseline":"middle"},"encoding":{"x":{"datum":0.147,"type":"quantitative","scale":{"type":"log","domain":[0.1,600],"nice":false},"axis":null},"y":{"datum":14,"type":"quantitative","scale":{"type":"log","domain":[0.05,9000],"nice":false},"axis":null}}},
 {"data":{"values":[{}]},"mark":{"type":"text","text":"Jets","fontSize":24,"color":"#999999","align":"left","baseline":"middle"},"encoding":{"x":{"datum":0.16,"type":"quantitative","scale":{"type":"log","domain":[0.1,600],"nice":false},"axis":null},"y":{"datum":5.44,"type":"quantitative","scale":{"type":"log","domain":[0.05,9000],"nice":false},"axis":null}}},
 {"data":{"values":[{}]},"mark":{"type":"text","text":"a","fontSize":26,"color":"black","align":"center","baseline":"middle"},"encoding":{"x":{"datum":250,"type":"quantitative","scale":{"type":"log","domain":[0.1,600],"nice":false},"axis":null},"y":{"datum":3790,"type":"quantitative","scale":{"type":"log","domain":[0.05,9000],"nice":false},"axis":null}}},
 {"data":{"name":"ebar"},"transform":[{"filter":"datum.panel==='a'"}],"mark":{"type":"rule","color":"black","strokeWidth":3},"encoding":{"x":{"field":"xlo","type":"quantitative","scale":{"type":"log","domain":[0.1,600],"nice":false},"axis":null},"x2":{"field":"xhi"},"y":{"field":"y","type":"quantitative","scale":{"type":"log","domain":[0.05,9000],"nice":false},"axis":null}}},
 {"data":{"name":"ebar"},"transform":[{"filter":"datum.panel==='a'"}],"mark":{"type":"rule","color":"black","strokeWidth":3},"encoding":{"x":{"field":"x","type":"quantitative","scale":{"type":"log","domain":[0.1,600],"nice":false},"axis":null},"y":{"field":"ylo","type":"quantitative","scale":{"type":"log","domain":[0.05,9000],"nice":false},"axis":null},"y2":{"field":"yhi"}}},
 {"data":{"name":"ebar"},"transform":[{"filter":"datum.panel==='a'"},{"fold":["xlo","xhi"],"as":["k","xc"]}],"mark":{"type":"point","shape":"M0,-1L0,1","size":144,"filled":false,"stroke":"black","strokeWidth":3,"opacity":1},"encoding":{"x":{"field":"xc","type":"quantitative","scale":{"type":"log","domain":[0.1,600],"nice":false},"axis":null},"y":{"field":"y","type":"quantitative","scale":{"type":"log","domain":[0.05,9000],"nice":false},"axis":null}}},
 {"data":{"name":"ebar"},"transform":[{"filter":"datum.panel==='a'"},{"fold":["ylo","yhi"],"as":["k","yc"]}],"mark":{"type":"point","shape":"M-1,0L1,0","size":100,"filled":false,"stroke":"black","strokeWidth":3,"opacity":1},"encoding":{"x":{"field":"x","type":"quantitative","scale":{"type":"log","domain":[0.1,600],"nice":false},"axis":null},"y":{"field":"yc","type":"quantitative","scale":{"type":"log","domain":[0.05,9000],"nice":false},"axis":null}}}
]},
{"width":475,"height":471,"resolve":{"axis":{"x":"independent","y":"independent"},"scale":{"fill":"independent","stroke":"independent"}},"layer":[
 {"data":{"name":"src"},"transform":[{"filter":"datum.panel==='b' && datum.kind==='lim'"}],"mark":{"type":"point","shape":"M-0.18,0L0.18,0L0.18,2.75L-0.18,2.75Z M-0.75,2.6L0.75,2.6L0,3.85Z","size":400,"filled":true,"opacity":0.75,"strokeWidth":0},"encoding":{"x":{"field":"x","type":"quantitative","scale":{"type":"log","domain":[14.5,28600],"reverse":true,"nice":false},"axis":{"orient":"bottom","values":[100,1000,10000],"tickSize":-10,"tickWidth":2,"labelPadding":18,"labelExpr":"'10' + ['⁻¹','⁰','¹','²','³','⁴'][round(log(datum.value)/LN10)+1]","title":"S70μm / S24μm","titleFontSize":24,"titlePadding":22}},"y":{"field":"y","type":"quantitative","scale":{"type":"log","domain":[0.05,9000],"nice":false},"axis":{"orient":"left","values":[0.1,1,10,100,1000],"tickSize":-12,"tickWidth":2,"labels":false,"title":null}},"fill":{"field":"cls","type":"nominal","scale":{"domain":["R","A","I","Q"],"range":["#F76450","#00DEDE","#6093D8","#B7B7B7"]},"legend":null}}},
 {"data":{"name":"src"},"transform":[{"filter":"datum.panel==='b' && (datum.kind==='det' || datum.kind==='jet')"}],"mark":{"type":"point","shape":"circle","size":1260,"filled":true,"opacity":1,"fillOpacity":0.55,"strokeWidth":2,"strokeOpacity":0.85},"encoding":{"x":{"field":"x","type":"quantitative","scale":{"type":"log","domain":[14.5,28600],"reverse":true,"nice":false},"axis":{"orient":"bottom","values":[20,30,40,50,60,70,80,90,200,300,400,500,600,700,800,900,2000,3000,4000,5000,6000,7000,8000,9000,20000],"tickSize":-5,"labels":false,"title":null}},"y":{"field":"y","type":"quantitative","scale":{"type":"log","domain":[0.05,9000],"nice":false},"axis":{"orient":"left","values":[0.06,0.07,0.08,0.09,0.2,0.3,0.4,0.5,0.6,0.7,0.8,0.9,2,3,4,5,6,7,8,9,20,30,40,50,60,70,80,90,200,300,400,500,600,700,800,900,2000,3000,4000,5000,6000,7000,8000],"tickSize":-6,"labels":false,"title":null}},"fill":{"field":"cls","type":"nominal","scale":{"domain":["R","A","I","Q"],"range":["#FA8072","#14E4DC","#7EA2D9","#BCBCBC"]},"legend":null},"stroke":{"field":"cls","type":"nominal","scale":{"domain":["R","A","I","Q"],"range":["#F08070","#4FAAA5","#6A8AB5","#A8A8A8"]},"legend":null}}},
 {"data":{"name":"src"},"transform":[{"filter":"datum.panel==='b' && (datum.kind==='jet' || datum.kind==='cross')"}],"mark":{"type":"point","shape":"M-1,-0.14L1,-0.14L1,0.14L-1,0.14Z M-0.14,-1L0.14,-1L0.14,1L-0.14,1Z","size":961,"filled":true,"color":"#7A9282","opacity":0.85,"strokeWidth":0},"encoding":{"x":{"field":"x","type":"quantitative","scale":{"type":"log","domain":[14.5,28600],"reverse":true,"nice":false},"axis":{"orient":"top","values":[100,1000,10000],"tickSize":-10,"tickWidth":2,"labels":false,"title":null}},"y":{"field":"y","type":"quantitative","scale":{"type":"log","domain":[0.05,9000],"nice":false},"axis":{"orient":"right","values":[0.1,1,10,100,1000],"tickSize":-12,"tickWidth":2,"labels":false,"title":null}}}},
 {"data":{"name":"src"},"transform":[{"filter":"datum.panel==='b' && datum.kind==='det'"}],"mark":{"type":"point","shape":"circle","size":150,"filled":true,"fill":"#FF0000","stroke":"#7A0000","strokeWidth":2,"opacity":1},"encoding":{"x":{"field":"x","type":"quantitative","scale":{"type":"log","domain":[14.5,28600],"reverse":true,"nice":false},"axis":{"orient":"top","values":[20,30,40,50,60,70,80,90,200,300,400,500,600,700,800,900,2000,3000,4000,5000,6000,7000,8000,9000,20000],"tickSize":-5,"labels":false,"title":null}},"y":{"field":"y","type":"quantitative","scale":{"type":"log","domain":[0.05,9000],"nice":false},"axis":{"orient":"right","values":[0.06,0.07,0.08,0.09,0.2,0.3,0.4,0.5,0.6,0.7,0.8,0.9,2,3,4,5,6,7,8,9,20,30,40,50,60,70,80,90,200,300,400,500,600,700,800,900,2000,3000,4000,5000,6000,7000,8000],"tickSize":-6,"labels":false,"title":null}}}},
 {"data":{"name":"src"},"transform":[{"filter":"datum.panel==='b' && datum.kind==='jet'"}],"mark":{"type":"point","shape":"square","size":110,"filled":true,"stroke":"#0000FF","strokeWidth":2.5,"opacity":1},"encoding":{"x":{"field":"x","type":"quantitative","scale":{"type":"log","domain":[14.5,28600],"reverse":true,"nice":false},"axis":null},"y":{"field":"y","type":"quantitative","scale":{"type":"log","domain":[0.05,9000],"nice":false},"axis":null},"fill":{"field":"cls","type":"nominal","scale":{"domain":["R","A"],"range":["#5A8DE6","#FFFFFF"]},"legend":null}}},
 {"data":{"values":[{}]},"mark":{"type":"rule","color":"#BBBBBB","strokeWidth":3.5,"strokeDash":[3.5,5]},"encoding":{"y":{"datum":8.5,"type":"quantitative","scale":{"type":"log","domain":[0.05,9000],"nice":false},"axis":null}}},
 {"data":{"values":[{}]},"mark":{"type":"text","text":"b","fontSize":26,"color":"black","align":"center","baseline":"middle"},"encoding":{"x":{"datum":31.1,"type":"quantitative","scale":{"type":"log","domain":[14.5,28600],"reverse":true,"nice":false},"axis":null},"y":{"datum":3790,"type":"quantitative","scale":{"type":"log","domain":[0.05,9000],"nice":false},"axis":null}}},
 {"data":{"name":"vec"},"mark":{"type":"rule","color":"#9A9A9A","strokeWidth":2.5},"encoding":{"x":{"field":"x","type":"quantitative","scale":{"type":"log","domain":[14.5,28600],"reverse":true,"nice":false},"axis":null},"y":{"field":"y","type":"quantitative","scale":{"type":"log","domain":[0.05,9000],"nice":false},"axis":null},"x2":{"field":"x2"},"y2":{"field":"y2"}}},
 {"data":{"name":"vec"},"mark":{"type":"point","shape":"M0,0L-2.3,-0.75L-2.3,0.75Z","size":400,"filled":true,"fill":"#D3D3D3","stroke":"#999999","strokeWidth":2,"angle":-40,"opacity":1},"encoding":{"x":{"field":"x2","type":"quantitative","scale":{"type":"log","domain":[14.5,28600],"reverse":true,"nice":false},"axis":null},"y":{"field":"y2","type":"quantitative","scale":{"type":"log","domain":[0.05,9000],"nice":false},"axis":null}}},
 {"data":{"name":"ebar"},"transform":[{"filter":"datum.panel==='b'"}],"mark":{"type":"rule","color":"black","strokeWidth":3},"encoding":{"x":{"field":"xlo","type":"quantitative","scale":{"type":"log","domain":[14.5,28600],"reverse":true,"nice":false},"axis":null},"x2":{"field":"xhi"},"y":{"field":"y","type":"quantitative","scale":{"type":"log","domain":[0.05,9000],"nice":false},"axis":null}}},
 {"data":{"name":"ebar"},"transform":[{"filter":"datum.panel==='b'"}],"mark":{"type":"rule","color":"black","strokeWidth":3},"encoding":{"x":{"field":"x","type":"quantitative","scale":{"type":"log","domain":[14.5,28600],"reverse":true,"nice":false},"axis":null},"y":{"field":"ylo","type":"quantitative","scale":{"type":"log","domain":[0.05,9000],"nice":false},"axis":null},"y2":{"field":"yhi"}}},
 {"data":{"name":"ebar"},"transform":[{"filter":"datum.panel==='b'"},{"fold":["xlo","xhi"],"as":["k","xc"]}],"mark":{"type":"point","shape":"M0,-1L0,1","size":144,"filled":false,"stroke":"black","strokeWidth":3,"opacity":1},"encoding":{"x":{"field":"xc","type":"quantitative","scale":{"type":"log","domain":[14.5,28600],"reverse":true,"nice":false},"axis":null},"y":{"field":"y","type":"quantitative","scale":{"type":"log","domain":[0.05,9000],"nice":false},"axis":null}}},
 {"data":{"name":"ebar"},"transform":[{"filter":"datum.panel==='b'"},{"fold":["ylo","yhi"],"as":["k","yc"]}],"mark":{"type":"point","shape":"M-1,0L1,0","size":100,"filled":false,"stroke":"black","strokeWidth":3,"opacity":1},"encoding":{"x":{"field":"x","type":"quantitative","scale":{"type":"log","domain":[14.5,28600],"reverse":true,"nice":false},"axis":null},"y":{"field":"yc","type":"quantitative","scale":{"type":"log","domain":[0.05,9000],"nice":false},"axis":null}}}
]},
{"width":96,"height":471,"resolve":{"axis":{"x":"independent","y":"independent"}},"layer":[
 {"data":{"name":"nbar"},"mark":{"type":"rect","clip":true},"encoding":{"x":{"field":"n","type":"quantitative","scale":{"domain":[0,5],"nice":false,"zero":false},"axis":{"orient":"bottom","values":[0,5],"tickSize":-10,"tickWidth":2,"labelPadding":18,"title":"N","titleFontStyle":"italic","titlePadding":12}},"x2":{"datum":0},"y":{"field":"lo","type":"quantitative","scale":{"type":"log","domain":[0.05,9000],"nice":false},"axis":{"orient":"left","values":[0.1,1,10,100,1000],"tickSize":-12,"tickWidth":2,"labels":false,"title":null}},"y2":{"field":"hi"},"fill":{"field":"cls","type":"nominal","scale":{"domain":["R","A","I"],"range":["#FFB4AC","#7EF2EE","#B7CCEB"]},"legend":null}}},
 {"data":{"values":[{}]},"mark":{"type":"point","opacity":0},"encoding":{"x":{"datum":1,"type":"quantitative","scale":{"domain":[0,5],"nice":false,"zero":false},"axis":{"orient":"bottom","values":[1,2,3,4],"tickSize":-5,"labels":false,"title":null}},"y":{"datum":1,"type":"quantitative","scale":{"type":"log","domain":[0.05,9000],"nice":false},"axis":{"orient":"left","values":[0.06,0.07,0.08,0.09,0.2,0.3,0.4,0.5,0.6,0.7,0.8,0.9,2,3,4,5,6,7,8,9,20,30,40,50,60,70,80,90,200,300,400,500,600,700,800,900,2000,3000,4000,5000,6000,7000,8000],"tickSize":-6,"labels":false,"title":null}}}},
 {"data":{"values":[{}]},"mark":{"type":"point","opacity":0},"encoding":{"x":{"datum":1,"type":"quantitative","scale":{"domain":[0,5],"nice":false,"zero":false},"axis":{"orient":"top","values":[0,5],"tickSize":-10,"tickWidth":2,"labels":false,"title":null}},"y":{"datum":1,"type":"quantitative","scale":{"type":"log","domain":[0.05,9000],"nice":false},"axis":{"orient":"right","values":[0.1,1,10,100,1000],"tickSize":-12,"tickWidth":2,"labels":false,"title":null}}}},
 {"data":{"values":[{}]},"mark":{"type":"point","opacity":0},"encoding":{"x":{"datum":1,"type":"quantitative","scale":{"domain":[0,5],"nice":false,"zero":false},"axis":{"orient":"top","values":[1,2,3,4],"tickSize":-5,"labels":false,"title":null}},"y":{"datum":1,"type":"quantitative","scale":{"type":"log","domain":[0.05,9000],"nice":false},"axis":{"orient":"right","values":[0.06,0.07,0.08,0.09,0.2,0.3,0.4,0.5,0.6,0.7,0.8,0.9,2,3,4,5,6,7,8,9,20,30,40,50,60,70,80,90,200,300,400,500,600,700,800,900,2000,3000,4000,5000,6000,7000,8000],"tickSize":-6,"labels":false,"title":null}}}}
]}
]
}
